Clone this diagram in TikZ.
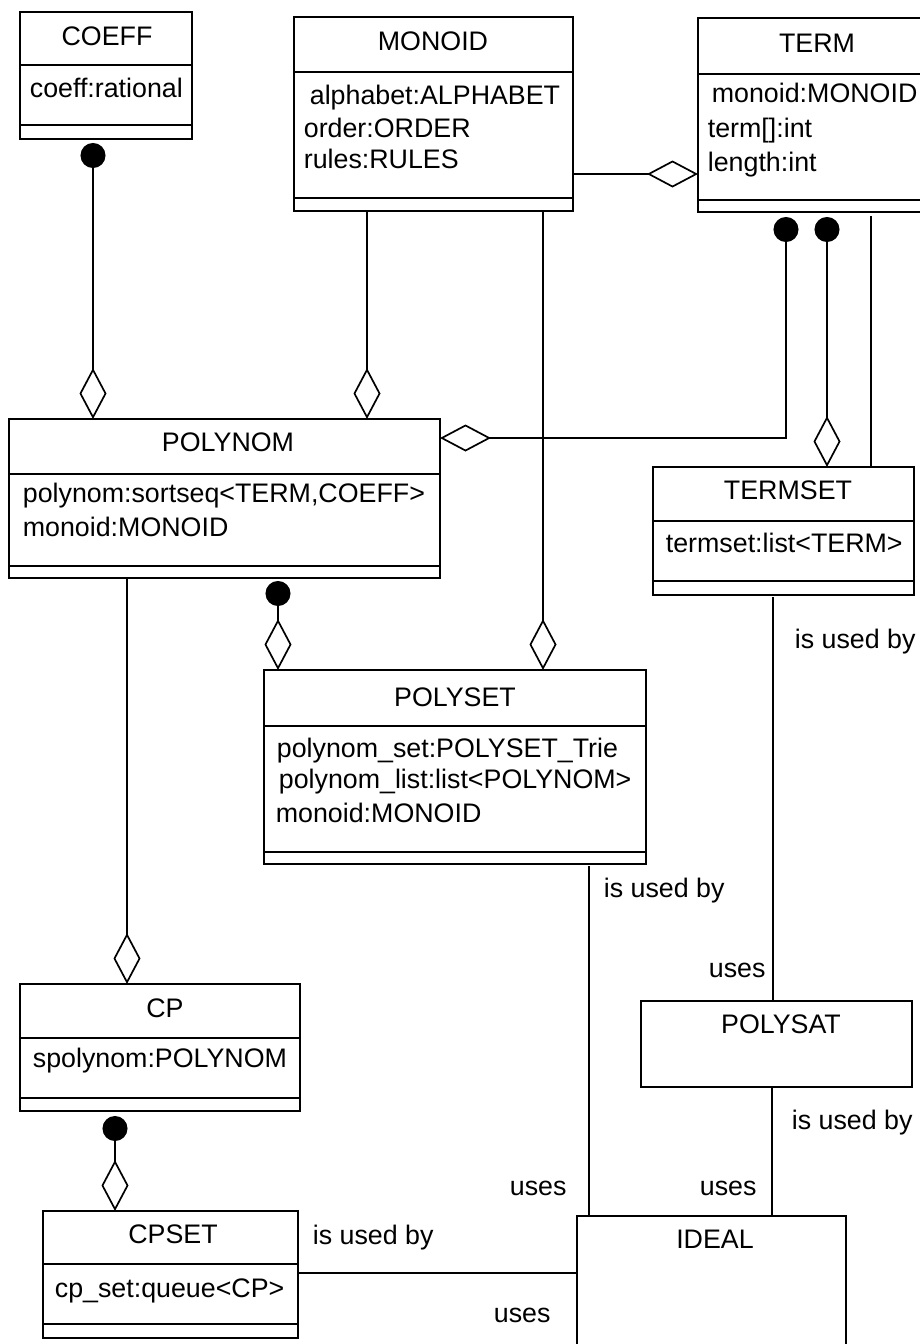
\documentclass[tikz,border=0pt]{standalone}
\usepackage{fontspec}
\setmainfont{Liberation Sans}
\usetikzlibrary{arrows.meta,calc}

% class box: name, x, y, width, height, first and second compartment offsets
\newcommand\classbox[7]{%
  \node[box, minimum width=#4pt, minimum height=#5pt] (#1) at (#2,#3) {};
  \draw (#1.north west) ++(0,#6) -- ++(#4,0);
  \draw (#1.north west) ++(0,#7) -- ++(#4,0);
}

\begin{document}
\begin{tikzpicture}[x=1pt,y=-1pt,
  line width=1.7pt,
  box/.style={draw, rectangle, anchor=north west, inner sep=0pt, outer sep=0pt},
  txt/.style={anchor=base west, inner sep=0pt, font=\fontsize{26.8}{30}\selectfont},
  ttl/.style={anchor=base, inner sep=0pt, font=\fontsize{26.8}{30}\selectfont},
  agg/.style={-{Diamond[open,length=51pt,width=27pt]}},
  comp/.style={{Circle[length=25pt]}-{Diamond[open,length=51pt,width=27pt]}},
]
\useasboundingbox (0,0) rectangle (920,1344);
\clip (0,0) rectangle (920,1344);

% classes
\classbox{coeff}{20}{12}{172}{127}{53}{113}
\classbox{monoid}{294}{17}{279}{194}{55}{181}
\classbox{term}{698}{18}{250}{194}{56}{182}
\classbox{polynom}{9}{419}{431}{159}{55}{147}
\classbox{termset}{653}{467}{261}{128}{54}{114}
\classbox{polyset}{264}{670}{382}{194}{56}{182}
\classbox{cp}{20}{984}{280}{127}{54}{114}
\classbox{cpset}{43}{1211}{255}{127}{53}{113}
\node[box, minimum width=271pt, minimum height=86pt] (polysat) at (641,1001) {};
\node[box, minimum width=269pt, minimum height=140pt] (ideal) at (577,1216) {};

% titles
\node[ttl] (coeff-t) at (107,45) {COEFF};
\node[ttl] (monoid-t) at (433,50) {MONOID};
\node[ttl] (term-t) at (817,52) {TERM};
\node[ttl] (polynom-t) at (228,451) {POLYNOM};
\node[ttl] (termset-t) at (788,499) {TERMSET};
\node[ttl] (polyset-t) at (455,706) {POLYSET};
\node[ttl] (cp-t) at (165,1017) {CP};
\node[ttl] (cpset-t) at (173,1243) {CPSET};
\node[ttl] (polysat-t) at (781,1033) {POLYSAT};
\node[ttl] (ideal-t) at (715,1248) {IDEAL};

% attributes
\node[txt] (coeff-a1) at (29,97) {coeff:rational};
\node[txt] (monoid-a1) at (309,104) {alphabet:ALPHABET};
\node[txt] (monoid-a2) at (303,137) {order:ORDER};
\node[txt] (monoid-a3) at (303,168) {rules:RULES};
\node[txt] (term-a1) at (711,102) {monoid:MONOID};
\node[txt] (term-a2) at (707,137) {term[]:int};
\node[txt] (term-a3) at (707,171) {length:int};
\node[txt] (polynom-a1) at (22,502) {polynom:sortseq<TERM,COEFF>};
\node[txt] (polynom-a2) at (22,536) {monoid:MONOID};
\node[txt] (termset-a1) at (665,552) {termset:list<TERM>};
\node[txt] (polyset-a1) at (276,757) {polynom\_set:POLYSET\_Trie};
\node[txt] (polyset-a2) at (278,788) {polynom\_list:list<POLYNOM>};
\node[txt] (polyset-a3) at (275,822) {monoid:MONOID};
\node[txt] (cp-a1) at (32,1067) {spolynom:POLYNOM};
\node[txt] (cpset-a1) at (54,1297) {cp\_set:queue<CP>};

% aggregations and compositions
\draw[comp] ($(coeff.south west)+(73,4)$) coordinate (p1) -- (p1 |- polynom.north);
\draw[agg] ($(monoid.south west)+(73,0)$) coordinate (p2) -- (p2 |- polynom.north);
\draw[agg] ($(monoid.south west)+(249,0)$) coordinate (p3) -- (p3 |- polyset.north);
\draw[agg] ($(monoid.north east)+(0,157)$) coordinate (p4) -- (p4 -| term.west);
\draw[comp] ($(term.south west)+(88,5)$) coordinate (p5) |- ($(polynom.north east)+(0,19)$);
\draw[comp] ($(term.south west)+(129,5)$) coordinate (p6) -- (p6 |- termset.north);
\draw ($(term.south west)+(173,4)$) coordinate (p7) -- (p7 |- termset.north);
\draw[comp] ($(polynom.south west)+(269,3)$) coordinate (p8) -- (p8 |- polyset.north);
\draw[agg] ($(polynom.south west)+(118,0)$) coordinate (p9) -- (p9 |- cp.north);
\draw[comp] ($(cp.south west)+(95,5)$) coordinate (p10) -- (p10 |- cpset.north);

% usage links
\draw ($(polyset.south west)+(325,2)$) coordinate (p11) -- (p11 |- ideal.north);
\draw ($(termset.south west)+(120,2)$) coordinate (p12) -- (p12 |- polysat.north);
\draw ($(polysat.south west)+(131,1)$) coordinate (p13) -- (p13 |- ideal.north);
\draw ($(cpset.north east)+(0,62)$) coordinate (p14) -- (p14 -| ideal.west);

% link labels
\node[txt] (l1) at (794,648) {is used by};
\node[txt] (l2) at (603,897) {is used by};
\node[txt] (l3) at (708,977) {uses};
\node[txt] (l4) at (791,1129) {is used by};
\node[txt] (l5) at (509,1195) {uses};
\node[txt] (l6) at (699,1195) {uses};
\node[txt] (l7) at (312,1244) {is used by};
\node[txt] (l8) at (493,1322) {uses};
\end{tikzpicture}
\end{document}
